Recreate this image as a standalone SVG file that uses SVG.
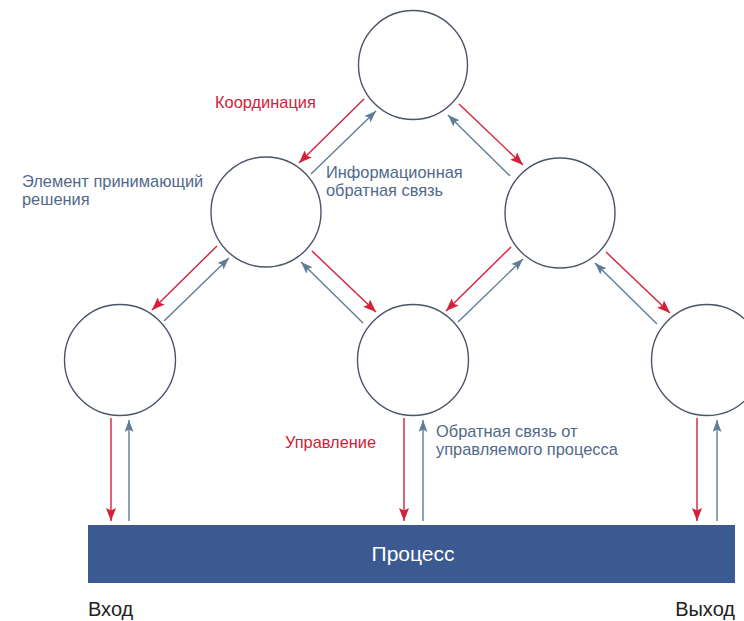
<svg xmlns="http://www.w3.org/2000/svg" width="744" height="621" viewBox="0 0 744 621">
<defs>
<marker id="ar" markerUnits="userSpaceOnUse" markerWidth="13" markerHeight="10" refX="13" refY="5" orient="auto">
<path d="M0,0 L13,5 L0,10 L2.5,5 z" fill="#d4203a"/>
</marker>
<marker id="ab" markerUnits="userSpaceOnUse" markerWidth="12" markerHeight="10" refX="12" refY="4.5" orient="auto">
<path d="M0,0 L12,4.5 L0,9 L2.5,4.5 z" fill="#5f7d99"/>
</marker>
</defs>
<style>
.node{fill:#fff;stroke:#4b5568;stroke-width:1.4}
.r{stroke:#d4203a;stroke-width:1.4;fill:none;marker-end:url(#ar)}
.b{stroke:#5f7d99;stroke-width:1.4;fill:none;marker-end:url(#ab)}
.t{font-family:"Liberation Sans","DejaVu Sans",sans-serif;font-size:16.4px}
.tr{fill:#d4203a}
.tb{fill:#50698b}
.tk{fill:#222;font-size:20px}
</style>
<rect width="744" height="621" fill="#fff"/>
<g id="connectors">
<line class="r" x1="364" y1="99" x2="299" y2="163"/>
<line class="b" x1="311" y1="174" x2="376" y2="111"/>
<line class="r" x1="459" y1="104" x2="523" y2="165"/>
<line class="b" x1="510" y1="176" x2="448" y2="115"/>
<line class="r" x1="217" y1="246" x2="152" y2="310"/>
<line class="b" x1="164" y1="321" x2="229" y2="258"/>
<line class="r" x1="312" y1="251" x2="376" y2="312"/>
<line class="b" x1="363" y1="323" x2="301" y2="262"/>
<line class="r" x1="511" y1="247" x2="446" y2="311"/>
<line class="b" x1="458" y1="322" x2="523" y2="259"/>
<line class="r" x1="606" y1="252" x2="670" y2="313"/>
<line class="b" x1="657" y1="324" x2="595" y2="263"/>
<line class="r" x1="111" y1="418" x2="111" y2="521"/>
<line class="b" x1="129" y1="521" x2="129" y2="420"/>
<line class="r" x1="404" y1="418" x2="404" y2="521"/>
<line class="b" x1="423" y1="521" x2="423" y2="420"/>
<line class="r" x1="697" y1="418" x2="697" y2="521"/>
<line class="b" x1="717" y1="521" x2="717" y2="420"/>
</g>
<g id="n-top"><circle class="node" cx="413" cy="65" r="54.5"/></g>
<g id="n-midleft"><circle class="node" cx="266" cy="212" r="55"/></g>
<g id="n-midright"><circle class="node" cx="560" cy="213" r="55"/></g>
<g id="n-botleft"><circle class="node" cx="120" cy="360" r="55.5"/></g>
<g id="n-botmid"><circle class="node" cx="413" cy="360" r="55.5"/></g>
<g id="n-botright"><circle class="node" cx="707" cy="360" r="55.5"/></g>
<g id="n-process">
<rect x="88" y="525" width="647" height="58" fill="#3c5a92"/>
<text class="t" x="413" y="561" text-anchor="middle" fill="#fff" style="font-size:21px">Процесс</text>
</g>
<g id="labels">
<text class="t tr" x="215" y="108">Координация</text>
<text class="t tb" x="326" y="178">Информационная</text>
<text class="t tb" x="326" y="196">обратная связь</text>
<text class="t tb" x="22" y="187">Элемент принимающий</text>
<text class="t tb" x="22" y="205">решения</text>
<text class="t tr" x="285" y="448">Управление</text>
<text class="t tb" x="436" y="437">Обратная связь от</text>
<text class="t tb" x="436" y="455">управляемого процесса</text>
<text class="t tk" x="88" y="616">Вход</text>
<text class="t tk" x="735" y="616" text-anchor="end">Выход</text>
</g>
</svg>
